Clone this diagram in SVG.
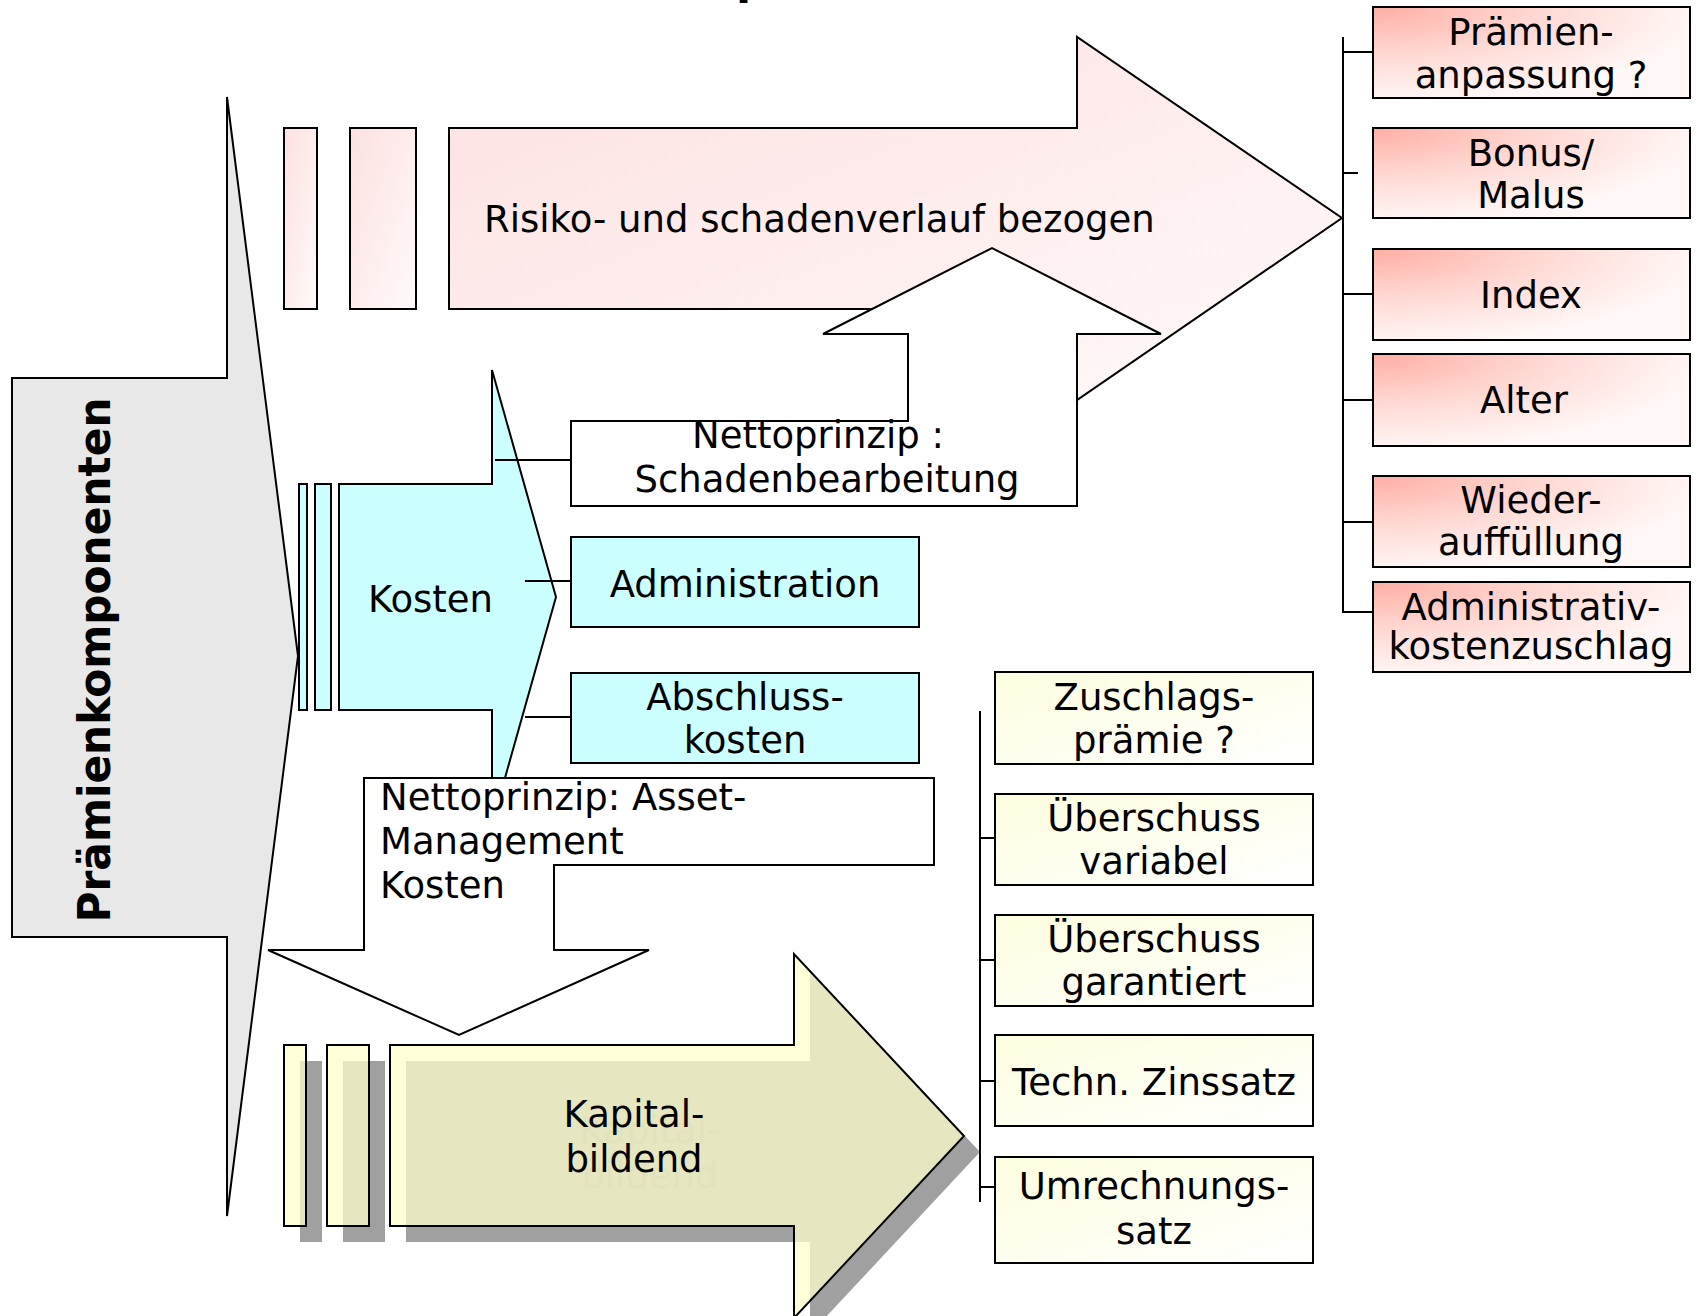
<svg xmlns="http://www.w3.org/2000/svg" width="1698" height="1316" viewBox="0 0 1698 1316">
<defs>
<radialGradient id="gPinkBox" cx="0" cy="0" r="1.05" fx="0" fy="0">
<stop offset="0" stop-color="#ffaea4"/>
<stop offset="0.5" stop-color="#ffd8d3"/>
<stop offset="1" stop-color="#fff8f7"/>
</radialGradient>
<linearGradient id="gPinkArrow" x1="0" y1="0" x2="1" y2="1">
<stop offset="0" stop-color="#fde0e0"/>
<stop offset="1" stop-color="#fffafa"/>
</linearGradient>
<linearGradient id="gYellowBox" x1="0" y1="0" x2="1" y2="1">
<stop offset="0" stop-color="#fdfddf"/>
<stop offset="1" stop-color="#ffffff"/>
</linearGradient>
<style>
.s{stroke:#000;stroke-width:2;stroke-linejoin:miter}
.t{font-family:"DejaVu Sans",Verdana,"Liberation Sans",sans-serif;font-size:37px;fill:#000}
.c{text-anchor:middle}
.grey{fill:#e8e8e8}
.pink{fill:url(#gPinkArrow)}
.pinkbox{fill:url(#gPinkBox)}
.cyan{fill:#ccffff}
.white{fill:#ffffff}
.yel{fill:#ffffcc;fill-opacity:0.74}
.shadow{fill:#a0a0a0}
.ybox{fill:url(#gYellowBox)}
.ln{stroke:#000;stroke-width:2;fill:none}
</style>
</defs>
<rect width="1698" height="1316" fill="#ffffff"/>
<text class="t" x="736" y="-6" style="font-weight:bold;font-size:44px">p</text>

<g id="praemienkomponenten">
<polygon class="s grey" points="12,378 227,378 227,97 298,656 227,1216 227,937 12,937"/>
<text class="t c" transform="translate(110,660) rotate(-90)" style="font-weight:bold;font-size:44px" textLength="525" lengthAdjust="spacingAndGlyphs">Prämienkomponenten</text>
</g>

<g id="risiko">
<rect class="s pink" x="284" y="128" width="33" height="181"/>
<rect class="s pink" x="350" y="128" width="66" height="181"/>
<polygon class="s pink" points="449,128 1077,128 1077,37 1342,218 1077,400 1077,309 449,309"/>
<text class="t" x="484" y="232">Risiko- und schadenverlauf bezogen</text>
</g>

<g id="netto-schaden">
<polygon class="s white" points="571,421 908,421 908,334 823,334 992,248 1161,334 1077,334 1077,506 571,506"/>
<text class="t c" x="818" y="448">Nettoprinzip :</text>
<text class="t c" x="827" y="492">Schadenbearbeitung</text>
</g>

<g id="kosten">
<rect class="s cyan" x="299" y="484" width="8" height="226"/>
<rect class="s cyan" x="315" y="484" width="16" height="226"/>
<polygon class="s cyan" points="339,484 492,484 492,370 556,597 492,824 492,710 339,710"/>
<text class="t" x="368" y="612">Kosten</text>
</g>

<g id="administration">
<rect class="s cyan" x="571" y="537" width="348" height="90"/>
<text class="t c" x="745" y="597">Administration</text>
</g>

<g id="abschlusskosten">
<rect class="s cyan" x="571" y="673" width="348" height="90"/>
<text class="t c" x="745" y="710">Abschluss-</text>
<text class="t c" x="745" y="753">kosten</text>
</g>

<g id="netto-asset">
<polygon class="s white" points="364,778 934,778 934,865 554,865 554,950 649,950 459,1035 268,950 364,950"/>
<text class="t" x="380" y="810">Nettoprinzip: Asset-</text>
<text class="t" x="380" y="854">Management</text>
<text class="t" x="380" y="898">Kosten</text>
</g>

<g id="kapitalbildend">
<g id="kapital-shadow">
<rect class="shadow" x="300" y="1061" width="22" height="181"/>
<rect class="shadow" x="343" y="1061" width="42" height="181"/>
<polygon class="shadow" points="406,1061 810,1061 810,970 980,1152 810,1334 810,1242 406,1242"/>
<text class="t c" x="650" y="1143" style="fill:#8e8e8e">Kapital-</text>
<text class="t c" x="650" y="1188" style="fill:#8e8e8e">bildend</text>
</g>
<rect class="s yel" x="284" y="1045" width="22" height="181"/>
<rect class="s yel" x="327" y="1045" width="42" height="181"/>
<polygon class="s yel" points="390,1045 794,1045 794,954 964,1136 794,1318 794,1226 390,1226"/>
<text class="t c" x="634" y="1127">Kapital-</text>
<text class="t c" x="634" y="1172">bildend</text>
</g>

<g id="praemienanpassung">
<rect class="s pinkbox" x="1373" y="7" width="317" height="91"/>
<text class="t c" x="1531" y="45">Prämien-</text>
<text class="t c" x="1531" y="88">anpassung ?</text>
</g>
<g id="bonus-malus">
<rect class="s pinkbox" x="1373" y="128" width="317" height="90"/>
<text class="t c" x="1531" y="166">Bonus/</text>
<text class="t c" x="1531" y="208">Malus</text>
</g>
<g id="index">
<rect class="s pinkbox" x="1373" y="249" width="317" height="91"/>
<text class="t c" x="1531" y="308">Index</text>
</g>
<g id="alter">
<rect class="s pinkbox" x="1373" y="354" width="317" height="92"/>
<text class="t c" x="1524" y="413">Alter</text>
</g>
<g id="wiederauffuellung">
<rect class="s pinkbox" x="1373" y="476" width="317" height="91"/>
<text class="t c" x="1531" y="513">Wieder-</text>
<text class="t c" x="1531" y="555">auffüllung</text>
</g>
<g id="administrativkostenzuschlag">
<rect class="s pinkbox" x="1373" y="582" width="317" height="90"/>
<text class="t c" x="1531" y="620">Administrativ-</text>
<text class="t c" x="1531" y="659">kostenzuschlag</text>
</g>

<g id="zuschlagspraemie">
<rect class="s ybox" x="995" y="672" width="318" height="92"/>
<text class="t c" x="1154" y="710">Zuschlags-</text>
<text class="t c" x="1154" y="753">prämie ?</text>
</g>
<g id="ueberschuss-variabel">
<rect class="s ybox" x="995" y="794" width="318" height="91"/>
<text class="t c" x="1154" y="831">Überschuss</text>
<text class="t c" x="1154" y="874">variabel</text>
</g>
<g id="ueberschuss-garantiert">
<rect class="s ybox" x="995" y="915" width="318" height="91"/>
<text class="t c" x="1154" y="952">Überschuss</text>
<text class="t c" x="1154" y="995">garantiert</text>
</g>
<g id="zinssatz">
<rect class="s ybox" x="995" y="1035" width="318" height="91"/>
<text class="t c" x="1154" y="1095">Techn. Zinssatz</text>
</g>
<g id="umrechnungssatz">
<rect class="s ybox" x="995" y="1157" width="318" height="106"/>
<text class="t c" x="1154" y="1199">Umrechnungs-</text>
<text class="t c" x="1154" y="1244">satz</text>
</g>

<g id="connectors">
<line class="ln" x1="495" y1="460" x2="571" y2="460"/>
<line class="ln" x1="525" y1="581" x2="571" y2="581"/>
<line class="ln" x1="525" y1="717" x2="571" y2="717"/>
<line class="ln" x1="1343" y1="37" x2="1343" y2="613"/>
<line class="ln" x1="1342" y1="52" x2="1373" y2="52"/>
<line class="ln" x1="1342" y1="173" x2="1358" y2="173"/>
<line class="ln" x1="1342" y1="294" x2="1373" y2="294"/>
<line class="ln" x1="1342" y1="400" x2="1373" y2="400"/>
<line class="ln" x1="1342" y1="522" x2="1373" y2="522"/>
<line class="ln" x1="1342" y1="612" x2="1373" y2="612"/>
<line class="ln" x1="980" y1="711" x2="980" y2="1202"/>
<line class="ln" x1="979" y1="838" x2="995" y2="838"/>
<line class="ln" x1="979" y1="960" x2="995" y2="960"/>
<line class="ln" x1="979" y1="1081" x2="995" y2="1081"/>
<line class="ln" x1="979" y1="1187" x2="995" y2="1187"/>
</g>
</svg>
